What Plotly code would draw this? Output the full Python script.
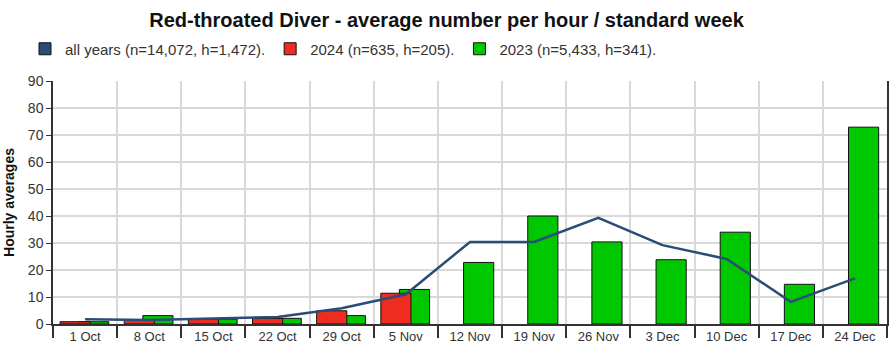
import plotly.graph_objects as go

weeks = ["1 Oct", "8 Oct", "15 Oct", "22 Oct", "29 Oct", "5 Nov", "12 Nov",
         "19 Nov", "26 Nov", "3 Dec", "10 Dec", "17 Dec", "24 Dec"]
all_years = [1.8, 1.5, 2.0, 2.6, 5.8, 11.0, 30.4, 30.4, 39.3, 29.2, 24.1, 8.2, 16.9]
y2024 = [0.85, 1.4, 1.85, 2.1, 4.9, 11.4, None, None, None, None, None, None, None]
y2023 = [0.85, 3.1, 1.8, 2.1, 3.1, 12.8, 22.8, 40.0, 30.4, 23.8, 34.0, 14.7, 72.9]

name_all = "all years (n=14,072, h=1,472)."
name_2024 = "2024 (n=635, h=205)."
name_2023 = "2023 (n=5,433, h=341)."

C_LINE = "#2b4c74"
C_RED = "#ee2c20"
C_GREEN = "#00c800"

idx = list(range(len(weeks)))
W, H = 893, 356

fig = go.Figure()
# legend-only entry for the line (square swatch)
fig.add_trace(go.Bar(x=[None], y=[None], name=name_all, marker=dict(color=C_LINE, line=dict(color="#111", width=1)),
                     legendrank=1))
fig.add_trace(go.Bar(x=idx, y=y2023, name=name_2023, width=0.47, offset=-0.1,
                     marker=dict(color=C_GREEN, line=dict(color="#111", width=1)), legendrank=3))
fig.add_trace(go.Bar(x=idx, y=y2024, name=name_2024, width=0.47, offset=-0.39,
                     marker=dict(color=C_RED, line=dict(color="#111", width=1)), legendrank=2))
fig.add_trace(go.Scatter(x=idx, y=all_years, mode="lines", showlegend=False,
                         line=dict(color=C_LINE, width=2.5)))

fig.update_layout(
    width=W, height=H,
    margin=dict(l=53, r=6, t=81, b=32, autoexpand=False),
    barmode="overlay",
    paper_bgcolor="white", plot_bgcolor="white",
    font=dict(family="Liberation Sans, Arial, sans-serif", size=13, color="#333"),
    title=dict(text="<b>Red-throated Diver - average number per hour / standard week</b>",
               x=0.5, xanchor="center", y=1 - 20 / H, yref="container", yanchor="middle",
               font=dict(size=20, color="#111")),
    legend=dict(orientation="h", x=25 / W, xref="container", xanchor="left",
                y=1 - 49 / H, yref="container", yanchor="middle",
                font=dict(size=15, color="#333"), traceorder="normal", itemwidth=30),
    xaxis=dict(range=[-0.5, len(weeks) - 0.5], tickmode="array", tickvals=idx, ticktext=weeks,
               showgrid=False, ticks="", showline=True, linecolor="#333", linewidth=1.5,
               tickfont=dict(size=13, color="#333"), zeroline=False, fixedrange=True,
               minor=dict(tickmode="array", tickvals=[i - 0.5 for i in idx] + [len(weeks) - 0.5],
                          ticks="outside", ticklen=12, tickcolor="#333", tickwidth=1.5,
                          showgrid=True, gridcolor="#d9d9d9", gridwidth=1.5)),
    yaxis=dict(range=[0, 90], dtick=10, ticks="outside", ticklen=5, tickcolor="#333",
               showline=True, linecolor="#333", linewidth=1.5, mirror=True,
               gridcolor="#d9d9d9", gridwidth=1.5, zeroline=False,
               tickfont=dict(size=14, color="#333"),
               title=dict(text="<b>Hourly averages</b>", font=dict(size=14, color="#111"), standoff=10)),
)

fig.write_html("out.html", config={"displayModeBar": False},
               post_script="document.body.style.margin='0px';")
